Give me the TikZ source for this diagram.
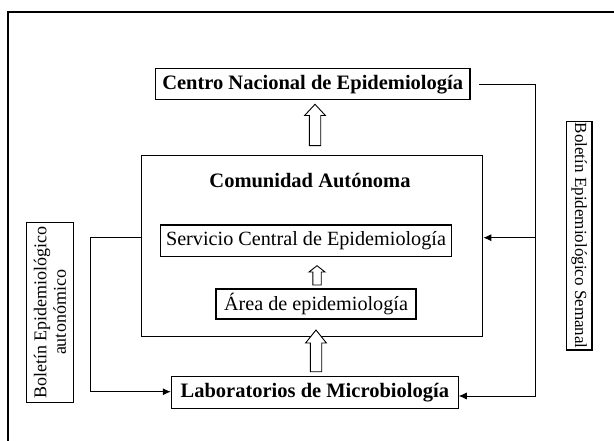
\documentclass[tikz,border=0pt]{standalone}
\usepackage{fontspec}
\setmainfont{Liberation Serif}
\usetikzlibrary{arrows.meta}
\newcommand\hollowup[6]{% x, tip, base, bottom, shaft half width, head half width
  \draw[line width=0.9pt,fill=white] (#1-#5,#4) -- (#1-#5,#3) -- (#1-#6,#3) -- (#1,#2) -- (#1+#6,#3) -- (#1+#5,#3) -- (#1+#5,#4) -- cycle;}
\begin{document}
\begin{tikzpicture}[x=1pt,y=-1pt,
  box/.style={draw,line width=1.2pt,inner sep=0pt,align=center},
  conn/.style={line width=0.9pt},
  tip/.style={-{Latex[length=8pt,width=7pt]}},
  bigtxt/.style={font=\fontsize{20.5}{23}\selectfont\bfseries},
  medtxt/.style={font=\fontsize{20.2}{23}\selectfont},
  smtxt/.style={font=\fontsize{17}{19}\selectfont}]
\useasboundingbox (0,0) rectangle (614,441);
\draw[line width=1.2pt] (8,441) -- (8,12) -- (614,12);
\node[box,bigtxt,minimum width=314.7pt,minimum height=31pt] (cne) at (312.7,84.2) {Centro Nacional de Epidemiología};
\node[box,minimum width=341.4pt,minimum height=181pt] (ca) at (312,246.2) {};
\node[bigtxt] (catitle) at (310,181) {Comunidad Autónoma};
\node[box,medtxt,minimum width=291pt,minimum height=31.5pt] (sce) at (306,240.8) {Servicio Central de Epidemiología};
\node[box,medtxt,minimum width=200pt,minimum height=30pt] (area) at (316,304) {Área de epidemiología};
\node[box,bigtxt,minimum width=286.7pt,minimum height=31.6pt] (lab) at (314.8,392.5) {Laboratorios de Microbiología};
\node[box,rotate=90,minimum width=179.6pt,minimum height=46.6pt,font=\fontsize{18}{19.5}\selectfont] (bea) at (49.9,312.5) {Boletín Epidemiológico\\autonómico};
\node[box,smtxt,rotate=-90,minimum width=228.7pt,minimum height=25.6pt] (bes) at (579.2,235.7) {Boletín Epidemiológico Semanal};
\hollowup{315}{104.3}{115.5}{145.7}{5.7}{10.4}
\hollowup{317}{265.7}{272}{285}{4.2}{8}
\hollowup{316}{330}{343}{371.7}{5.7}{10.4}
\coordinate (r0) at (479,84);
\coordinate (r1) at (535.7,84);
\coordinate (r2) at (535.7,237.7);
\coordinate (r3) at (535.7,396);
\coordinate (l1) at (90,237.7);
\coordinate (l2) at (90,391.7);
\draw[conn,tip] (r0) -- (r1) -- (r3) -- (lab.east |- r3);
\draw[conn,tip] (r2) -- (ca.east |- r2);
\draw[conn,tip] (ca.west |- l1) -- (l1) -- (l2) -- (lab.west |- l2);
\end{tikzpicture}
\end{document}
